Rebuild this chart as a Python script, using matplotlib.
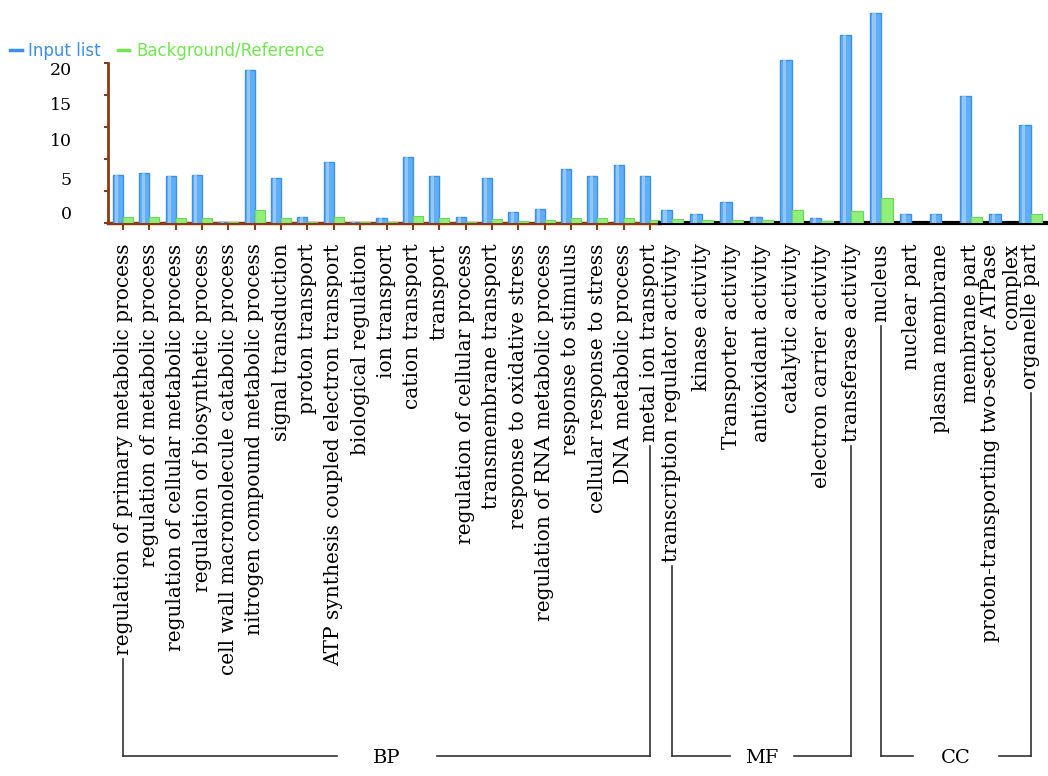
import numpy as np
import matplotlib
matplotlib.use("Agg")
import matplotlib.pyplot as plt
from matplotlib.lines import Line2D

# ---------------- data ----------------
bp_terms = [
    "regulation of primary metabolic process",
    "regulation of metabolic process",
    "regulation of cellular metabolic process",
    "regulation of biosynthetic process",
    "cell wall macromolecule catabolic process",
    "nitrogen compound metabolic process",
    "signal transduction",
    "proton transport",
    "ATP synthesis coupled electron transport",
    "biological regulation",
    "ion transport",
    "cation transport",
    "transport",
    "regulation of cellular process",
    "transmembrane transport",
    "response to oxidative stress",
    "regulation of RNA metabolic process",
    "response to stimulus",
    "cellular response to stress",
    "DNA metabolic process",
    "metal ion transport",
]
bp_input = [6.0, 6.2, 5.8, 6.0, 0.1, 19.2, 5.6, 0.7, 7.6, 0.1, 0.55,
            8.3, 5.8, 0.75, 5.6, 1.4, 1.7, 6.7, 5.8, 7.2, 5.9]
bp_background = [0.7, 0.7, 0.6, 0.6, 0.1, 1.6, 0.6, 0.1, 0.7, 0.1, 0.1,
                 0.9, 0.6, 0.15, 0.5, 0.2, 0.3, 0.55, 0.6, 0.6, 0.4]

mf_terms = [
    "transcription regulator activity",
    "kinase activity",
    "Transporter activity",
    "antioxidant activity",
    "catalytic activity",
    "electron carrier activity",
    "transferase activity",
]
mf_input = [1.6, 1.1, 2.6, 0.75, 20.4, 0.6, 23.5]
mf_background = [0.5, 0.3, 0.4, 0.35, 1.6, 0.2, 1.5]

cc_terms = [
    "nucleus",
    "nuclear part",
    "plasma membrane",
    "membrane part",
    "proton-transporting two-sector ATPase\ncomplex",
    "organelle part",
]
cc_input = [26.3, 1.1, 1.1, 15.9, 1.1, 12.2]
cc_background = [3.1, 0.0, 0.0, 0.7, 0.0, 1.1]

ytick_text = ["0", "5", "10", "15", "20"]
group_names = ["BP", "MF", "CC"]
legend_labels = ["Input list", "Background/Reference"]

# ---------------- style ----------------
BLUE = "#62aef5"
BLUE_EDGE = "#3d90e6"
BLUE_HI = "#a6d4fb"
GREEN = "#8fef78"
GREEN_EDGE = "#6ad858"
BROWN = "#8a3b12"
BLUE_TXT = "#3a8fe8"
GREEN_TXT = "#6fe84f"
SERIF = "DejaVu Serif"

W, H = 1048, 776
fig = plt.figure(figsize=(W / 100, H / 100), dpi=100)
fig.patch.set_facecolor("white")


def px_rect(left, right, top, bottom):
    return [left / W, 1 - bottom / H, (right - left) / W, (bottom - top) / H]


BASE_PX = 222.7
PX_PER_UNIT = 7.97
YMAX = BASE_PX / PX_PER_UNIT

ax1 = fig.add_axes(px_rect(108, 660, 0, BASE_PX))
ax2 = fig.add_axes(px_rect(660, 1048, 0, BASE_PX))
ax2.patch.set_alpha(0)

W_BAR = 0.38


def draw_bars(ax, inp, bg):
    x = np.arange(len(inp))
    inp = np.asarray(inp)
    bg = np.asarray(bg)
    ax.bar(x - W_BAR / 2, inp, W_BAR, color=BLUE, edgecolor=BLUE_EDGE,
           linewidth=1.0, zorder=3)
    ax.bar(x - W_BAR / 2 - W_BAR * 0.12, inp, W_BAR * 0.3, color=BLUE_HI,
           linewidth=0, zorder=4, alpha=0.7)
    ax.bar(x + W_BAR / 2, bg, W_BAR, color=GREEN, edgecolor=GREEN_EDGE,
           linewidth=0.8, zorder=3)
    return x


x1 = draw_bars(ax1, bp_input, bp_background)
x2 = draw_bars(ax2, mf_input + cc_input, mf_background + cc_background)

ax1.set_xlim(-0.57, 20.38)
ax2.set_xlim(-0.4, 12.58)
for ax in (ax1, ax2):
    ax.set_ylim(0, YMAX)
    ax.spines["top"].set_visible(False)
    ax.spines["right"].set_visible(False)

# ax1 axes styling
ax1.spines["left"].set_color(BROWN)
ax1.spines["left"].set_linewidth(2)
ax1.spines["left"].set_bounds(0, 20)
ax1.spines["bottom"].set_color(BROWN)
ax1.spines["bottom"].set_linewidth(2.5)
ax1.set_yticks(np.arange(0, 21, 4))
ax1.set_yticklabels([])
ax1.tick_params(axis="y", which="major", length=3, width=1.5, color=BROWN)
label_pos = [1.3, 5.5, 10.4, 15.0, 19.3]
ax1.set_yticks(label_pos, ytick_text, minor=True)
ax1.tick_params(axis="y", which="minor", length=0, pad=26, labelsize=12.5)
for t in ax1.get_yticklabels(minor=True):
    t.set_fontfamily(SERIF)

ax1.set_xticks(x1, bp_terms, rotation=90)
ax1.tick_params(axis="x", length=5, width=1.5, color=BROWN, pad=10,
                labelsize=14.5)

# ax2 axes styling
ax2.spines["left"].set_visible(False)
ax2.spines["bottom"].set_color("black")
ax2.spines["bottom"].set_linewidth(3)
ax2.set_yticks([])
ax2.set_xticks(x2, mf_terms + cc_terms, rotation=90)
ax2.tick_params(axis="x", length=0, pad=15, labelsize=14.5)
for ax in (ax1, ax2):
    for t in ax.get_xticklabels():
        t.set_fontfamily(SERIF)
        t.set_linespacing(1.15)
        t.set_multialignment("right")

# legend
handles = [Line2D([], [], color=BLUE_TXT, lw=2.5),
           Line2D([], [], color=GREEN_TXT, lw=2.5)]
leg = fig.legend(handles, legend_labels, loc="upper left",
                 bbox_to_anchor=(0.0, 1 - 32 / H), ncol=2, frameon=False,
                 handlelength=0.7, handletextpad=0.4, columnspacing=1.0,
                 borderaxespad=0.2, prop={"family": "DejaVu Sans", "size": 12})
for t, c in zip(leg.get_texts(), [BLUE_TXT, GREEN_TXT]):
    t.set_color(c)

# ---------------- group brackets ----------------
fig.canvas.draw()
renderer = fig.canvas.get_renderer()
inv = fig.transFigure.inverted()
bracket_y = 1 - 756 / H
groups = [(ax1, 0, len(bp_terms) - 1),
          (ax2, 0, len(mf_terms) - 1),
          (ax2, len(mf_terms), len(mf_terms) + len(cc_terms) - 1)]
gap_half = [50 / W, 32 / W, 43 / W]
for (ax, i0, i1), name, gh in zip(groups, group_names, gap_half):
    labels = ax.get_xticklabels()
    ends = []
    for i in (i0, i1):
        bb = labels[i].get_window_extent(renderer)
        xd = ax.transData.transform((i, 0))[0]
        xf, yf = inv.transform((xd, bb.y0 - 4))
        ends.append((xf, yf))
    (xl, yl), (xr, yr) = ends
    kw = dict(color="#333333", lw=1.2, transform=fig.transFigure)
    fig.add_artist(Line2D([xl, xl], [yl, bracket_y], **kw))
    fig.add_artist(Line2D([xr, xr], [yr, bracket_y], **kw))
    xc = (xl + xr) / 2
    fig.add_artist(Line2D([xl, xc - gh], [bracket_y, bracket_y], **kw))
    fig.add_artist(Line2D([xc + gh, xr], [bracket_y, bracket_y], **kw))
    fig.text(xc, bracket_y - 2 / H, name, ha="center", va="center",
             fontsize=14, family=SERIF)

fig.savefig("out.png", dpi=100)
